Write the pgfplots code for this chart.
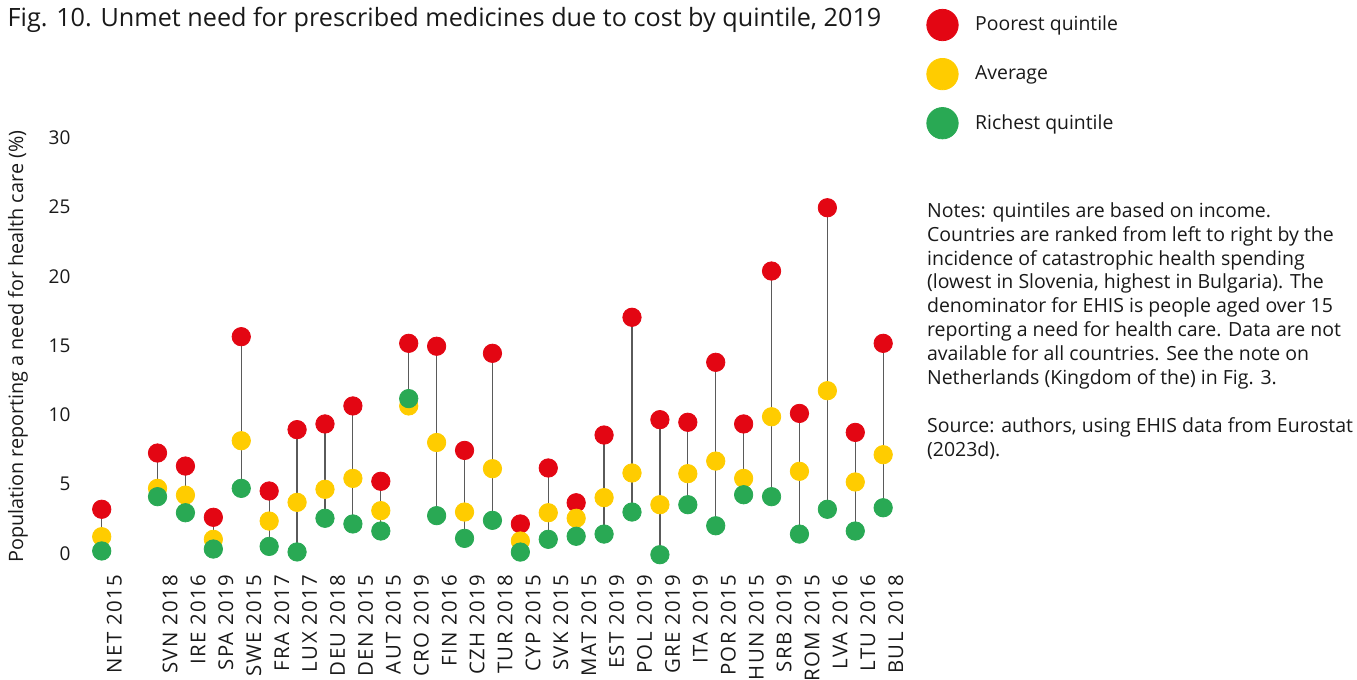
\documentclass[border=0pt]{standalone}
\usepackage{pgfplots}
\usepackage{pgfplotstable}
\pgfplotsset{compat=1.18}
\usepackage{fontspec}
\setmainfont{Open Sans}
\newfontfamily\xlabfont[LetterSpace=7]{Open Sans}

\definecolor{cred}{HTML}{E30613}
\definecolor{cyellow}{HTML}{FFCC00}
\definecolor{cgreen}{HTML}{29A954}
\definecolor{stem}{HTML}{5A5A5A}

% x = slot, p = poorest quintile, a = average, r = richest quintile
\pgfplotstableread[col sep=comma]{
x,label,p,a,r
0,NET 2015,3.18,1.20,0.17
2,SVN 2018,7.24,4.69,4.09
3,IRE 2016,6.30,4.20,2.93
4,SPA 2019,2.60,1.01,0.31
5,SWE 2015,15.64,8.13,4.69
6,FRA 2017,4.50,2.33,0.50
7,LUX 2017,8.93,3.68,0.10
8,DEU 2018,9.34,4.62,2.53
9,DEN 2015,10.64,5.41,2.12
10,AUT 2015,5.20,3.08,1.61
11,CRO 2019,15.16,10.64,11.17
12,FIN 2016,14.95,8.00,2.72
13,CZH 2019,7.43,2.98,1.08
14,TUR 2018,14.44,6.11,2.38
15,CYP 2015,2.12,0.89,0.09
16,SVK 2015,6.16,2.93,1.01
17,MAT 2015,3.65,2.53,1.23
18,EST 2019,8.54,4.02,1.39
19,POL 2019,17.04,5.80,2.98
20,GRE 2019,9.65,3.51,-0.10
21,ITA 2019,9.46,5.75,3.51
22,POR 2015,13.79,6.66,1.99
23,HUN 2015,9.34,5.41,4.23
24,SRB 2019,20.38,9.86,4.09
25,ROM 2015,10.10,5.92,1.39
26,LVA 2016,24.95,11.74,3.18
27,LTU 2016,8.73,5.15,1.61
28,BUL 2018,15.16,7.12,3.29
}\data

\begin{document}
\begin{tikzpicture}
\path[use as bounding box] (0,0) rectangle (678.5pt,340pt);

\begin{axis}[
  at={(36.9pt,52.95pt)}, anchor=south west,
  scale only axis,
  width=418.65pt, height=225.08pt,
  xmin=-1, xmax=29,
  ymin=-1.5, ymax=31,
  axis lines=left,
  axis line style={draw=none},
  major tick length=0pt,
  xtick={0,2,3,...,28},
  xticklabels from table={\data}{label},
  ytick={0,5,...,30},
  /pgf/number format/assume math mode=true,
  tick label style={font=\fontsize{9.5}{11}\selectfont, black!90},
  xticklabel style={rotate=90, anchor=east, inner sep=0pt, yshift=-6.3pt,
    font=\xlabfont\fontsize{10.2}{11}\selectfont},
  yticklabel style={anchor=east, inner sep=0pt, xshift=-1.5pt},
  ylabel={Population reporting a need for health care (\%)},
  ylabel style={at={(axis description cs:-0.0666,0.505)}, anchor=center,
    font=\fontsize{9.9}{11}\selectfont, black!90},
  legend style={at={(1.0178,1.2564)}, anchor=north west, draw=none, fill=none,
    font=\fontsize{9.7}{11}\selectfont, text=black!90,
    row sep=8.45pt, column sep=8.3pt, inner sep=0pt,
    nodes={inner sep=0pt}},
  legend cell align=left,
  clip=false,
]
\addplot[forget plot, only marks, mark=none,
  error bars/.cd, y dir=minus, y explicit, error mark=none,
  error bar style={stem, line width=0.6pt}]
  table[x=x, y=p, y error minus expr={\thisrow{p}-min(\thisrow{a},\thisrow{r})}] {\data};

\addplot[only marks, mark=*, mark size=4.6pt, color=cred,
  legend image code/.code={\fill[cred] (0pt,0pt) circle (7.85pt);}]
  table[x=x, y=p] {\data};
\addlegendentry{Poorest quintile}
\addplot[only marks, mark=*, mark size=4.6pt, color=cyellow,
  legend image code/.code={\fill[cyellow] (0pt,0pt) circle (7.85pt);}]
  table[x=x, y=a] {\data};
\addlegendentry{Average}
\addplot[only marks, mark=*, mark size=4.6pt, color=cgreen,
  legend image code/.code={\fill[cgreen] (0pt,0pt) circle (7.85pt);}]
  table[x=x, y=r] {\data};
\addlegendentry{Richest quintile}
\end{axis}

\node[anchor=base west, inner sep=0pt, font=\fontsize{12.6}{14}\selectfont, text=black!90]
  at (3.65pt,326.65pt) {Fig. 10. Unmet need for prescribed medicines due to cost by quintile, 2019};

\node[anchor=north west, inner sep=0pt, align=left,
  font=\fontsize{9.75}{11.95}\selectfont, text=black!90]
  at (463.35pt,239pt) {Notes: quintiles are based on income.\\
Countries are ranked from left to right by the\\
incidence of catastrophic health spending\\
(lowest in Slovenia, highest in Bulgaria). The\\
denominator for EHIS is people aged over 15\\
reporting a need for health care. Data are not\\
available for all countries. See the note on\\
Netherlands (Kingdom of the) in Fig. 3.\\[11.95pt]
Source: authors, using EHIS data from Eurostat\\
(2023d).};
\end{tikzpicture}
\end{document}
